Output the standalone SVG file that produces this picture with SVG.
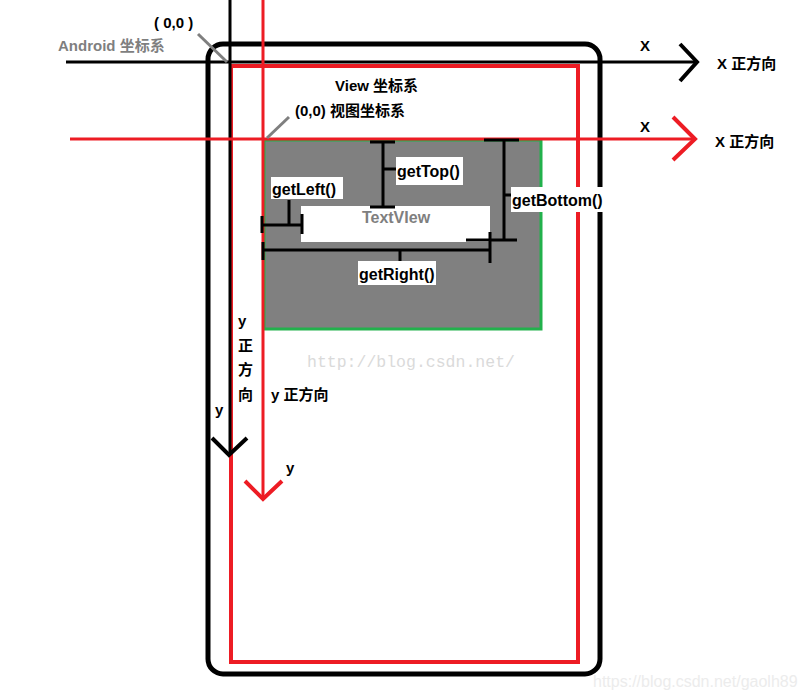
<svg xmlns="http://www.w3.org/2000/svg" width="805" height="700" viewBox="0 0 805 700">
<style>
.t{font-family:"Liberation Sans","Noto Sans CJK SC",sans-serif;font-weight:bold;fill:#000}
.g{fill:#7f7f7f}
.s15{font-size:15px}
.s16{font-size:16px}
.blk{stroke:#000;fill:none}
.red{stroke:#ed1c24;fill:none}
.ptr{stroke:#7f7f7f;stroke-width:3}
.lbl{fill:#fff}
.m{stroke:#000;stroke-width:3;fill:none}
</style>
<rect width="805" height="700" fill="#fff"/>
<g id="screen">
<rect x="208" y="44" width="392" height="630" rx="15" class="blk" stroke-width="5"/>
<rect x="231" y="66" width="347" height="596" class="red" stroke-width="4"/>
</g>
<g id="view">
<rect x="264" y="140" width="277" height="189" fill="#808080" stroke="#22b14c" stroke-width="3"/>
</g>
<g id="textview">
<rect x="301" y="206" width="189" height="36" fill="#fff"/>
<text x="396" y="223" class="t s16 g" text-anchor="middle">TextVIew</text>
</g>
<g id="connectors">
<line x1="66" y1="62" x2="697" y2="62" class="blk" stroke-width="3"/>
<polyline points="680,44 697,62 680,81" class="blk" stroke-width="4"/>
<line x1="230" y1="0" x2="230" y2="455" class="blk" stroke-width="3"/>
<polyline points="212,438 229,455 247,438" class="blk" stroke-width="4"/>
<line x1="70" y1="139" x2="696" y2="139" class="red" stroke-width="3"/>
<polyline points="673,117 695,139 673,160" class="red" stroke-width="4"/>
<line x1="263" y1="0" x2="263" y2="498" class="red" stroke-width="3"/>
<polyline points="245,481 263,499 282,481" class="red" stroke-width="4"/>
<line x1="198" y1="34" x2="227" y2="62" class="ptr"/>
<line x1="289" y1="117" x2="267" y2="138" class="ptr"/>
<path d="M370 142H395M383 142V207M370 207H395M383 169H396" class="m"/>
<path d="M262 216V233M262 225H302M302 214V234M289 200V225" class="m"/>
<path d="M263 242V260M263 250H490M490 232V263M400 250V262" class="m"/>
<path d="M484 140H519M504 140V240M466 240H517M504 195H512" class="m"/>
</g>
<g id="labels">
<rect x="396" y="157" width="67" height="28" class="lbl"/>
<text x="397" y="177" class="t s16">getTop()</text>
<rect x="271" y="177" width="72" height="22" class="lbl"/>
<text x="272" y="195" class="t s16">getLeft()</text>
<rect x="358" y="261" width="78" height="24" class="lbl"/>
<text x="359" y="280" class="t s16">getRight()</text>
<rect x="511" y="187" width="93" height="25" class="lbl"/>
<text x="512" y="206" class="t s16">getBottom()</text>
</g>
<g id="texts">
<text x="154" y="28" class="t s15">( 0,0 )</text>
<text x="58" y="51" class="t s15 g">Android 坐标系</text>
<text x="335" y="91" class="t s15">View 坐标系</text>
<text x="295" y="116" class="t s15">(0,0) 视图坐标系</text>
<text x="640" y="51" class="t s15">X</text>
<text x="717" y="69" class="t s15">X 正方向</text>
<text x="640" y="132" class="t s15">X</text>
<text x="715" y="147" class="t s15">X 正方向</text>
<text x="238" y="326" class="t s15">y</text>
<text x="238" y="351" class="t s15">正</text>
<text x="238" y="375" class="t s15">方</text>
<text x="238" y="400" class="t s15">向</text>
<text x="271" y="400" class="t s15">y 正方向</text>
<text x="215" y="415" class="t s15">y</text>
<text x="286" y="473" class="t s15">y</text>
<text x="307" y="367" font-family="Liberation Mono,monospace" font-size="16.5" fill="#dadada">http://blog.csdn.net/</text>
<text x="593" y="687" font-family="Liberation Sans,sans-serif" font-size="16" fill="#ececec">https://blog.csdn.net/gaolh89</text>
</g>
</svg>
